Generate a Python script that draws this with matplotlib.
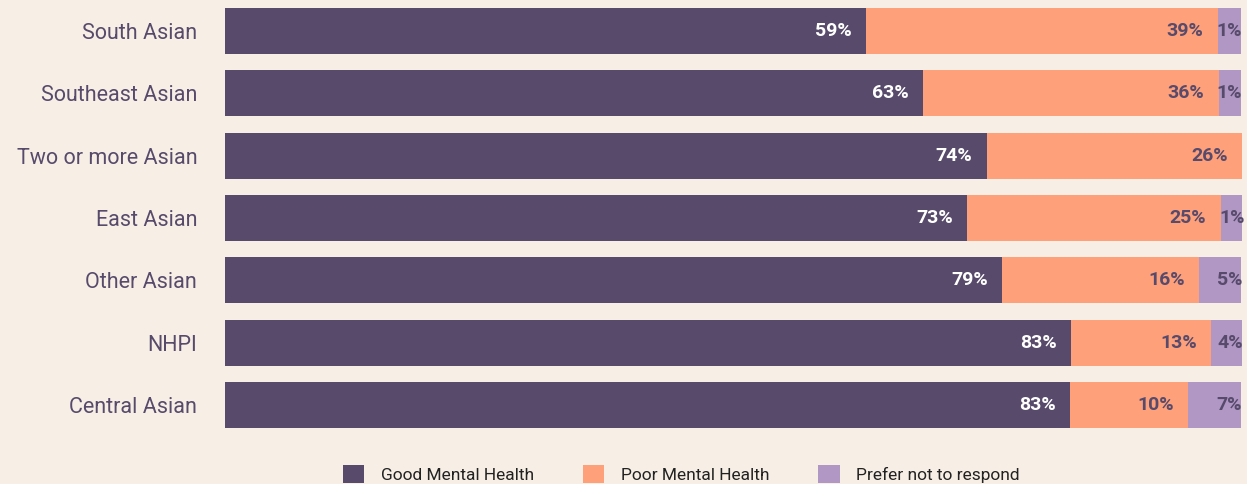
import numpy as np
import matplotlib.pyplot as plt
from matplotlib.patches import Patch

plt.rcParams['font.family'] = ['Roboto', 'DejaVu Sans']

groups = ["South Asian", "Southeast Asian", "Two or more Asian", "East Asian",
          "Other Asian", "NHPI", "Central Asian"]

# bar lengths as drawn in the picture (share of the full bar)
good = [63.0, 68.6, 74.9, 73.0, 76.4, 83.2, 83.1]
poor = [34.6, 29.1, 25.1, 24.9, 19.4, 13.8, 11.6]
pref = [2.3, 2.2, 0.0, 2.3, 4.1, 3.0, 5.2]

# printed labels
good_lbl = ["59%", "63%", "74%", "73%", "79%", "83%", "83%"]
poor_lbl = ["39%", "36%", "26%", "25%", "16%", "13%", "10%"]
pref_lbl = ["1%", "1%", "", "1%", "5%", "4%", "7%"]

series = ["Good Mental Health", "Poor Mental Health", "Prefer not to respond"]
colors = ["#574a6b", "#fea07a", "#b097c4"]
bg = "#f7efe6"
txt_dark = "#574a6b"

fig = plt.figure(figsize=(12.47, 4.84), dpi=100, facecolor=bg)
ax = fig.add_axes([225 / 1247, 48 / 484, 1017 / 1247, 436 / 484])
ax.set_facecolor(bg)

y = np.arange(len(groups))
good = np.array(good)
poor = np.array(poor)
pref = np.array(pref)
h = 0.74

ax.barh(y, good, height=h, color=colors[0])
ax.barh(y, poor, left=good, height=h, color=colors[1])
ax.barh(y, pref, left=good + poor, height=h, color=colors[2])

pad = 1.4
for i in range(len(groups)):
    ax.text(good[i] - pad, y[i], good_lbl[i], ha="right", va="center",
            color="white", fontsize=14, fontweight="bold")
    ax.text(good[i] + poor[i] - pad, y[i], poor_lbl[i], ha="right", va="center",
            color=txt_dark, fontsize=14, fontweight="bold")
    if pref_lbl[i]:
        ax.text(good[i] + poor[i] + pref[i] + 0.1, y[i], pref_lbl[i], ha="right",
                va="center", color=txt_dark, fontsize=14, fontweight="bold")

ax.set_xlim(0, 100)
ax.set_ylim(len(groups) - 0.5, -0.5)
ax.set_yticks(y)
ax.set_yticklabels(groups, fontsize=15.5, color=txt_dark)
ax.tick_params(axis="y", length=0, pad=20)
ax.set_xticks([])
for s in ax.spines.values():
    s.set_visible(False)

handles = [Patch(facecolor=c, edgecolor="none") for c in colors]
fig.legend(handles, series, loc="center left", bbox_to_anchor=(327 / 1247, 1 - 474 / 484),
           ncol=3, frameon=False, fontsize=12.5, handlelength=1.25, handleheight=1.25,
           handletextpad=0.95, columnspacing=2.8, labelcolor="#222222")

fig.savefig("out.png", dpi=100, facecolor=bg)
